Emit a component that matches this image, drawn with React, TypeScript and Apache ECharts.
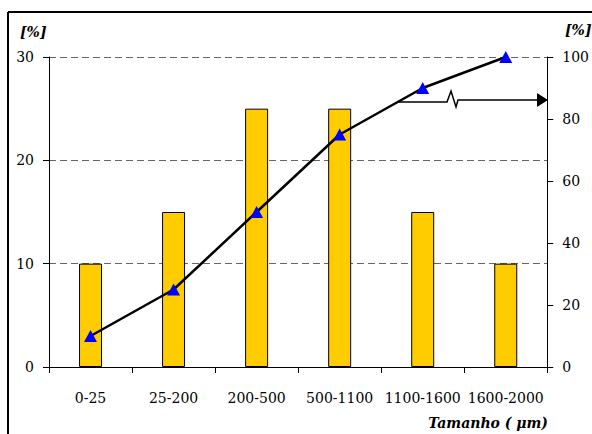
import React, { useEffect, useRef } from "react";
import * as echarts from "echarts";

const categories = ["0-25", "25-200", "200-500", "500-1100", "1100-1600", "1600-2000"];
const fractionPct = [10, 15, 25, 25, 15, 10];
const cumulativePct = [10, 25, 50, 75, 90, 100];
const leftTicks = { min: 0, max: 30, interval: 10 };
const rightTicks = { min: 0, max: 100, interval: 20 };

const FONT = "DejaVu Serif";

export default function App() {
  const ref = useRef<HTMLDivElement>(null);

  useEffect(() => {
    if (!ref.current) return;
    const chart = echarts.init(ref.current, undefined, { renderer: "svg" });
    const axisText = { color: "#000", fontSize: 14, fontFamily: FONT };
    const titleText = {
      fontFamily: FONT,
      fontSize: 14,
      fontStyle: "italic" as const,
      fontWeight: "bold" as const,
      fill: "#000",
    };
    chart.setOption({
      animation: false,
      backgroundColor: "#ffffff",
      textStyle: { fontFamily: FONT, color: "#000" },
      grid: { left: 49, right: 41, top: 57, bottom: 67 },
      xAxis: {
        type: "category",
        data: categories,
        boundaryGap: true,
        axisLine: { show: true, lineStyle: { color: "#000", width: 1 } },
        axisTick: { show: true, length: 6, lineStyle: { color: "#000" } },
        axisLabel: { ...axisText, margin: 24, interval: 0 },
      },
      yAxis: [
        {
          type: "value",
          ...leftTicks,
          axisLine: { show: true, lineStyle: { color: "#000", width: 1 } },
          axisTick: { show: true, length: 6, lineStyle: { color: "#000" } },
          axisLabel: { ...axisText, margin: 15 },
          splitLine: { show: true, lineStyle: { color: "#666", type: [7, 4], width: 1 } },
        },
        {
          type: "value",
          ...rightTicks,
          position: "right",
          axisLine: { show: true, lineStyle: { color: "#000", width: 1 } },
          axisTick: { show: true, length: 6, lineStyle: { color: "#000" } },
          axisLabel: { ...axisText, margin: 15 },
          splitLine: { show: false },
        },
      ],
      series: [
        {
          type: "bar",
          data: fractionPct,
          yAxisIndex: 0,
          barWidth: 23,
          itemStyle: { color: "#FFCC00", borderColor: "#000", borderWidth: 1 },
        },
        {
          type: "line",
          data: cumulativePct,
          yAxisIndex: 1,
          symbol: "triangle",
          symbolSize: [13, 12],
          lineStyle: { color: "#000", width: 2.5 },
          itemStyle: { color: "#0000FF", borderWidth: 0 },
          z: 5,
        },
      ],
      graphic: [
        { type: "line", shape: { x1: 8, y1: 12, x2: 592, y2: 12 }, style: { stroke: "#000", lineWidth: 2 } },
        { type: "line", shape: { x1: 8, y1: 12, x2: 8, y2: 434 }, style: { stroke: "#000", lineWidth: 2 } },
        {
          type: "text",
          x: 20,
          y: 32,
          style: { text: "[%]", ...titleText, verticalAlign: "middle" },
        },
        {
          type: "text",
          x: 565,
          y: 30,
          style: { text: "[%]", ...titleText, verticalAlign: "middle" },
        },
        {
          type: "text",
          x: 548,
          y: 423,
          style: { text: "Tamanho ( μm)", ...titleText, align: "right", verticalAlign: "middle" },
        },
        {
          type: "polyline",
          shape: { points: [[398, 102], [447, 102], [451, 91], [456, 107], [458, 100], [538, 100]] },
          style: { stroke: "#000", lineWidth: 1.5, fill: null },
          z: 10,
        },
        {
          type: "polygon",
          shape: { points: [[537, 93], [548, 100], [537, 107]] },
          style: { fill: "#000" },
          z: 10,
        },
      ],
    });
    return () => chart.dispose();
  }, []);

  return (
    <div
      ref={ref}
      style={{ position: "absolute", left: 0, top: 0, width: 592, height: 434 }}
    />
  );
}
